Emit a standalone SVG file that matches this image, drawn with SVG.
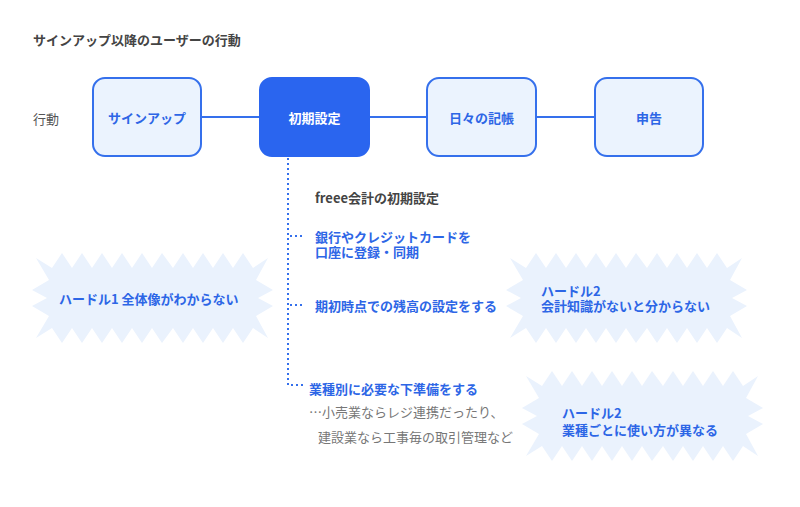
<svg xmlns="http://www.w3.org/2000/svg" width="800" height="507" viewBox="0 0 800 507">
<style>
text{font-family:"Noto Sans CJK JP","Noto Sans",sans-serif;font-size:13px;dominant-baseline:central}
.ttl{font-weight:bold;fill:#444}
.lbl{fill:#555}
.box{fill:#ebf3fe;stroke:#3570ec;stroke-width:2}
.boxon{fill:#2a65ef;stroke:#2a65ef;stroke-width:2}
.bt{font-weight:bold;fill:#2d66e6;text-anchor:middle}
.btw{font-weight:bold;fill:#fff;text-anchor:middle}
.blue{font-weight:bold;fill:#2d66e6}
.grey{fill:#777}
.burst{fill:#eaf2fd}
.line{stroke:#3570ec;stroke-width:2;fill:none}
.dot{stroke:#3570ec;stroke-width:2;fill:none;stroke-dasharray:2 3}
</style>
<defs>
<polygon id="burst" class="burst" points="52,268 62,253 72,268 82,253 92,268 102,253 112,268 122,253 132,268 142,253 152,268 162,253 173,268 183,253 193,268 203,253 213,268 223,253 233,268 243,253 253,268 268,258 256,280 273,290 258,298 273,306 256,316 268,338 253,328 243,343 233,328 223,343 213,328 203,343 193,328 183,343 173,328 162,343 152,328 142,343 132,328 122,343 112,328 102,343 92,328 82,343 72,328 62,343 52,328 36,338 49,316 32,306 47,298 32,290 49,280 36,258"/>
</defs>
<text class="ttl" x="33" y="39">サインアップ以降のユーザーの行動</text>
<text class="lbl" x="33" y="118">行動</text>
<g id="connectors">
<line class="line" x1="201" y1="117" x2="260" y2="117"/>
<line class="line" x1="369" y1="117" x2="427" y2="117"/>
<line class="line" x1="536" y1="117" x2="595" y2="117"/>
<path class="dot" d="M288,158 V385 H304"/>
<line class="dot" x1="290" y1="236" x2="304" y2="236"/>
<line class="dot" x1="290" y1="305" x2="304" y2="305"/>
</g>
<g id="signup"><rect class="box" x="93" y="78" width="108" height="78" rx="12"/><text class="bt" x="147" y="117">サインアップ</text></g>
<g id="setup"><rect class="boxon" x="260" y="78" width="109" height="78" rx="12"/><text class="btw" x="314.5" y="117">初期設定</text></g>
<g id="daily"><rect class="box" x="427" y="78" width="109" height="78" rx="12"/><text class="bt" x="481.5" y="117">日々の記帳</text></g>
<g id="filing"><rect class="box" x="595" y="78" width="108" height="78" rx="12"/><text class="bt" x="649" y="117">申告</text></g>
<g id="setup-detail">
<text class="ttl" x="315" y="197">freee会計の初期設定</text>
<text class="blue" x="315" y="236">銀行やクレジットカードを</text>
<text class="blue" x="315" y="251">口座に登録・同期</text>
<text class="blue" x="315" y="305">期初時点での残高の設定をする</text>
<text class="blue" x="309" y="388">業種別に必要な下準備をする</text>
<text class="grey" x="309" y="411">…小売業ならレジ連携だったり、</text>
<text class="grey" x="318" y="436">建設業なら工事毎の取引管理など</text>
</g>
<g id="hurdle1"><use href="#burst"/><text class="blue" x="59" y="298">ハードル1 全体像がわからない</text></g>
<g id="hurdle2a"><use href="#burst" transform="translate(474,0)"/><text class="blue" x="541" y="290">ハードル2</text><text class="blue" x="541" y="305">会計知識がないと分からない</text></g>
<g id="hurdle2b"><use href="#burst" transform="translate(490,118)"/><text class="blue" x="562" y="412">ハードル2</text><text class="blue" x="562" y="429">業種ごとに使い方が異なる</text></g>
</svg>
